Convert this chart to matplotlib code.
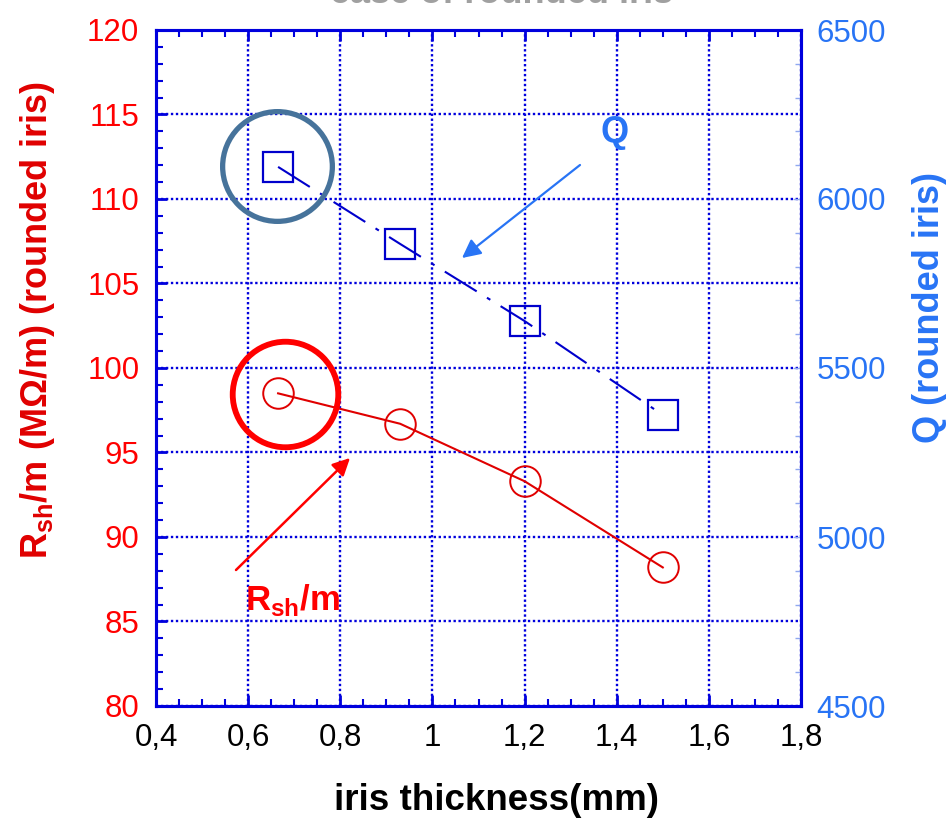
import matplotlib
matplotlib.use("Agg")
import matplotlib.pyplot as plt
from matplotlib.ticker import MultipleLocator, FuncFormatter
import matplotlib.transforms as mtransforms

plt.rcParams['font.family'] = ['Liberation Sans', 'DejaVu Sans']
plt.rcParams['mathtext.fontset'] = 'custom'
plt.rcParams['mathtext.rm'] = 'Liberation Sans'
plt.rcParams['mathtext.bf'] = 'Liberation Sans:bold'

# ---- data ----
iris_thickness = [0.665, 0.93, 1.2, 1.5]
rsh_per_m = [98.5, 96.7, 93.3, 88.2]
q_values = [6095, 5867, 5639, 5361]

x_ticks = [0.4, 0.6, 0.8, 1.0, 1.2, 1.4, 1.6, 1.8]
left_ticks = [80, 85, 90, 95, 100, 105, 110, 115, 120]
right_ticks = [4500, 5000, 5500, 6000, 6500]

title_text = "case of rounded iris"
xlabel_text = "iris thickness(mm)"
left_label_text = r"R$_\mathbf{sh}$/m (MΩ/m) (rounded iris)"
right_label_text = "Q (rounded iris)"

# ---- colours ----
SPINE = '#0000DD'
RED = '#FF0000'
RED_DARK = '#E00000'
QBLUE = '#2874F5'
DATA_BLUE = '#0000CC'
STEEL = '#46739B'

fig = plt.figure(figsize=(9.49, 8.22), dpi=100)
ax = fig.add_axes([156/949, 1-706/822, (801-156)/949, (706-30)/822])
ax2 = ax.twinx()

ax.set_xlim(0.4, 1.8)
ax.set_ylim(80, 120)
ax2.set_ylim(4500, 6500)

# red series
ax.plot(iris_thickness, rsh_per_m, color=RED_DARK, lw=1.5, marker='o',
        markersize=22, markerfacecolor='none', markeredgecolor=RED_DARK,
        markeredgewidth=1.4, zorder=5)
# blue Q series
ax2.plot(iris_thickness, q_values, color=DATA_BLUE, lw=1.5,
         linestyle=(0, (18, 5.8, 1.9, 5.8)), marker='s', markersize=22,
         markerfacecolor='none', markeredgecolor=DATA_BLUE,
         markeredgewidth=1.6, zorder=5)

# highlight circles around first points
off_red = mtransforms.offset_copy(ax.transData, fig=fig, x=7, y=-1, units='dots')
ax.plot([iris_thickness[0]], [rsh_per_m[0]], marker='o', markersize=76,
        markerfacecolor='none', markeredgecolor=RED, markeredgewidth=4.2,
        transform=off_red, zorder=6)
off_blue = mtransforms.offset_copy(ax2.transData, fig=fig, x=-1, y=1, units='dots')
ax2.plot([iris_thickness[0]], [q_values[0]], marker='o', markersize=79,
         markerfacecolor='none', markeredgecolor=STEEL, markeredgewidth=3.8,
         transform=off_blue, zorder=6)

# grid
ax.grid(True, which='major', color=SPINE, linestyle=(0, (1, 1.1)), lw=1.7)
ax.set_axisbelow(True)

# ticks
ax.xaxis.set_major_locator(MultipleLocator(0.2))
ax.xaxis.set_minor_locator(MultipleLocator(0.05))
ax.yaxis.set_major_locator(MultipleLocator(5))
ax.yaxis.set_minor_locator(MultipleLocator(1))
ax2.yaxis.set_major_locator(MultipleLocator(500))
ax2.yaxis.set_minor_locator(MultipleLocator(100))
ax.set_xticks(x_ticks)
ax.set_yticks(left_ticks)
ax2.set_yticks(right_ticks)

def comma_fmt(v, pos):
    s = f"{v:.1f}".rstrip('0').rstrip('.')
    return s.replace('.', ',')
ax.xaxis.set_major_formatter(FuncFormatter(comma_fmt))

ax.tick_params(axis='x', which='both', direction='in', top=True, bottom=True,
               colors=SPINE, labelcolor='black', labelsize=22.5, pad=12)
ax.tick_params(axis='x', which='major', length=8, width=2)
ax.tick_params(axis='x', which='minor', length=5, width=1.5)
ax.tick_params(axis='y', which='both', direction='in', left=True, right=False,
               colors=SPINE, labelcolor=RED, labelsize=22.5, pad=12)
ax.tick_params(axis='y', which='major', length=8, width=2)
ax.tick_params(axis='y', which='minor', length=5, width=1.5)
ax2.tick_params(axis='y', which='both', direction='in', right=True, left=False,
                colors='#8FA8F0', labelcolor=QBLUE, labelsize=22.5, pad=11)
ax2.tick_params(axis='y', which='major', length=6, width=1)
ax2.tick_params(axis='y', which='minor', length=4, width=1)

for a in (ax, ax2):
    for s in a.spines.values():
        s.set_color(SPINE)
        s.set_linewidth(2.2)

# axis labels
ax.set_xlabel(xlabel_text, fontsize=26.5, fontweight='bold', color='black')
ax.xaxis.set_label_coords((497-156)/645, (706-800)/676)
ax.xaxis.label.set_va('center')

ax.set_ylabel(left_label_text, fontsize=26, fontweight='bold', color=RED_DARK)
ax.yaxis.set_label_coords((38-156)/645, (706-320)/676)
ax.yaxis.label.set_va('center')

ax2.set_ylabel(right_label_text, fontsize=26, fontweight='bold', color=QBLUE)
ax2.yaxis.set_label_coords((930-156)/645, (706-307)/676)
ax2.yaxis.label.set_va('center')

# cropped title at the very top (only the bottom edge is visible)
fig.text(502/949, 1-3/822, title_text, ha='center', va='baseline',
         fontsize=26, fontweight='bold', color='#A0A0A0')

# annotations
ax.annotate('', xy=(462, 822-258), xytext=(580, 822-165),
            xycoords='figure pixels', textcoords='figure pixels',
            arrowprops=dict(arrowstyle='-|>', color=QBLUE, lw=1.6,
                            mutation_scale=28, shrinkA=0, shrinkB=0))
ax.annotate('', xy=(350, 822-458), xytext=(236, 822-570),
            xycoords='figure pixels', textcoords='figure pixels',
            arrowprops=dict(arrowstyle='-|>', color=RED, lw=1.8,
                            mutation_scale=26, shrinkA=0, shrinkB=0))
fig.text(615/949, 1-133/822, 'Q', ha='center', va='center', fontsize=26,
         fontweight='bold', color=QBLUE)
fig.text(245/949, 1-610/822, r"R$_\mathbf{sh}$/m", ha='left', va='baseline',
         fontsize=25, fontweight='bold', color=RED)

fig.savefig('out.png', dpi=100)
